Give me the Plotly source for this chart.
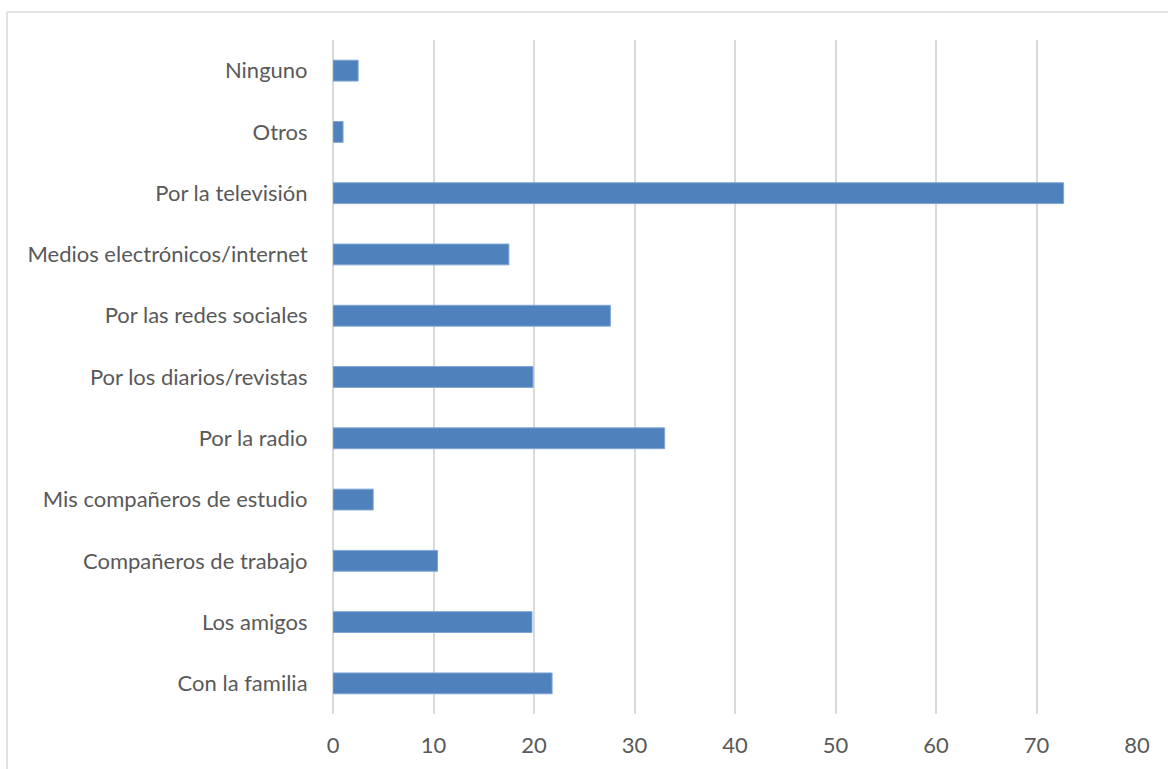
import plotly.graph_objects as go

categories = [
    "Con la familia",
    "Los amigos",
    "Compañeros de trabajo",
    "Mis compañeros de estudio",
    "Por la radio",
    "Por los diarios/revistas",
    "Por las redes sociales",
    "Medios electrónicos/internet",
    "Por la televisión",
    "Otros",
    "Ninguno",
]
values = [21.8, 19.8, 10.4, 4.0, 33.0, 19.9, 27.6, 17.5, 72.7, 1.0, 2.5]
x_ticks = [0, 10, 20, 30, 40, 50, 60, 70, 80]

W, H = 1168, 769
L, R, T, B = 333, 31, 40, 55
pw = W - L - R
ph = H - T - B

fig = go.Figure(
    go.Bar(
        x=values,
        y=categories,
        orientation="h",
        marker=dict(color="#4F81BD", line=dict(color="#7FA6D6", width=1)),
        width=0.34,
    )
)

fig.update_layout(
    width=W,
    height=H,
    margin=dict(l=L, r=R, t=T, b=B),
    paper_bgcolor="white",
    plot_bgcolor="white",
    showlegend=False,
    font=dict(family="Lato", size=22, color="#595959"),
    xaxis=dict(
        range=[0, 80],
        tickvals=x_ticks,
        showgrid=True,
        gridcolor="#D9D9D9",
        gridwidth=2,
        zeroline=True,
        zerolinecolor="#D9D9D9",
        zerolinewidth=2,
        showline=False,
        ticks="outside",
        ticklen=12,
        tickcolor="rgba(0,0,0,0)",
        fixedrange=True,
        automargin=False,
    ),
    yaxis=dict(
        categoryorder="array",
        categoryarray=categories,
        showgrid=False,
        showline=False,
        ticks="outside",
        ticklen=20,
        tickcolor="rgba(0,0,0,0)",
        range=[-0.5, len(categories) - 0.5],
        automargin=False,
    ),
)

# outer chart border (left and top edges visible)
x_left = (7 - L) / pw
x_right = (W + 5 - L) / pw
y_top = (H - B - 12) / ph
y_bot = -(B + 5) / ph
fig.add_shape(type="line", xref="paper", yref="paper", x0=x_left, x1=x_right, y0=y_top, y1=y_top,
              line=dict(color="#D9D9D9", width=1.5))
fig.add_shape(type="line", xref="paper", yref="paper", x0=x_left, x1=x_left, y0=y_bot, y1=y_top,
              line=dict(color="#D9D9D9", width=1.5))

fig.write_html("out.html")
